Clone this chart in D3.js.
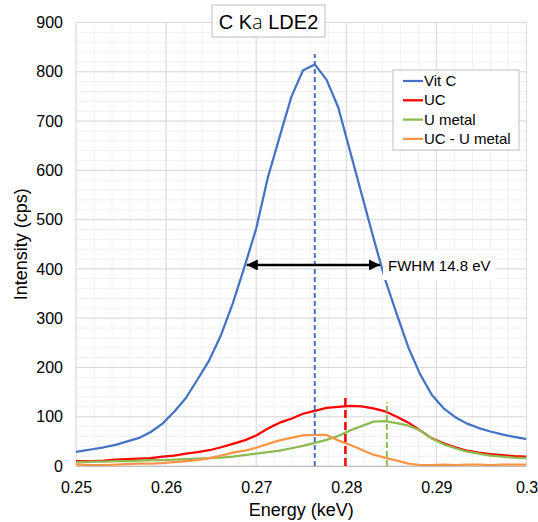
<!DOCTYPE html>
<html><head><meta charset="utf-8">
<script src="https://cdn.jsdelivr.net/npm/d3@7"></script>
<style>
html,body{margin:0;padding:0;background:#fff;}
svg text{font-family:"Liberation Sans",Arial,sans-serif;fill:#000;}
</style></head>
<body><svg id="chart" width="538" height="522"></svg>
<script>
// ---- data ----
const energy = [0.2492,0.2505,0.2518,0.2531,0.2544,0.2557,0.2570,0.2583,0.2596,0.2609,
  0.2622,0.2635,0.2648,0.2661,0.2674,0.2687,0.2700,0.2713,0.2726,0.2739,
  0.2752,0.2765,0.2778,0.2791,0.2804,0.2817,0.2830,0.2843,0.2856,0.2869,
  0.2882,0.2895,0.2908,0.2921,0.2934,0.2947,0.2960,0.2973,0.2986,0.2999];
const vitC = [27,30,34,38,43,50,57,69,86,110,
  138,176,215,266,330,404,482,586,668,749,
  803,815,784,728,640,552,464,379,308,240,
  186,144,117,99,86,77,70,64,59,55];
const uc = [10,10,10,11,13,14,15,16,19,21,
  25,28,32,38,45,52,62,76,88,96,
  106,112,118,120,122,121,117,111,100,88,
  72,56,46,38,31,27,24,22,20,19];
const uMetal = [8,8,9,9,10,10,11,12,12,13,
  14,15,16,17,19,22,25,28,31,36,
  41,47,53,61,72,81,90,91,87,82,
  72,56,44,36,29,25,21,19,17,16];
const ucMinusU = [4,3,2,2,3,4,5,5,6,8,
  10,12,16,21,27,31,37,45,52,57,
  62,63,63,52,43,33,23,17,11,5,
  2,2,3,2,3,3,2,3,3,3];
const seriesNames = ["Vit C","UC","U metal","UC - U metal"];
const seriesColors = ["#4472c4","#ff0000","#8cbb4f","#f79646"];
const xTicks = [0.25,0.26,0.27,0.28,0.29,0.3];
const xTickLabels = ["0.25","0.26","0.27","0.28","0.29","0.3"];
const yTicks = [0,100,200,300,400,500,600,700,800,900];
// marker lines: [energy, top value]
const markerX = [0.2765,0.2799,0.2845];
const markerTop = [836,145,130];
const fwhmFrom = 0.26895, fwhmTo = 0.28374, fwhmLevel = 408;
const fwhmLabel = "FWHM 14.8 eV";

// ---- layout ----
const svg = d3.select("#chart");
const L = 76, R = 526.5, T = 22.5, B = 466;
const x = d3.scaleLinear().domain([0.25,0.3]).range([L,R]);
const y = d3.scaleLinear().domain([0,900]).range([B,T]);

// minor grid
const g = svg.append("g");
const xMinor = d3.range(0,26).map(i=>0.25+i*0.002);
const yMinor = d3.range(0,46).map(i=>i*20);
g.selectAll(".vmin").data(xMinor).enter().append("line")
  .attr("x1",d=>x(d)).attr("x2",d=>x(d)).attr("y1",T).attr("y2",B)
  .attr("stroke","#f0f0f0").attr("stroke-width",1);
g.selectAll(".hmin").data(yMinor).enter().append("line")
  .attr("x1",L).attr("x2",R).attr("y1",d=>y(d)).attr("y2",d=>y(d))
  .attr("stroke","#f0f0f0").attr("stroke-width",1);
// major grid
g.selectAll(".vmaj").data(xTicks).enter().append("line")
  .attr("x1",d=>x(d)).attr("x2",d=>x(d)).attr("y1",T).attr("y2",B)
  .attr("stroke","#d9d9d9").attr("stroke-width",1);
g.selectAll(".hmaj").data(yTicks).enter().append("line")
  .attr("x1",L).attr("x2",R).attr("y1",d=>y(d)).attr("y2",d=>y(d))
  .attr("stroke","#d9d9d9").attr("stroke-width",1);

// axes (labels only)
const xAxis = d3.axisBottom(x).tickValues(xTicks).tickFormat((d,i)=>xTickLabels[i]).tickSize(0).tickPadding(16);
const xa = svg.append("g").attr("transform",`translate(0,${B})`).call(xAxis);
xa.select(".domain").attr("stroke","#bfbfbf");
xa.selectAll("text").style("font-size","16px").attr("font-family",null);
const yAxis = d3.axisLeft(y).tickValues(yTicks).tickSize(0).tickPadding(13);
const ya = svg.append("g").attr("transform",`translate(${L},0)`).call(yAxis);
ya.select(".domain").remove();
ya.selectAll("text").style("font-size","16px").attr("font-family",null);

// axis titles
svg.append("text").attr("x",(L+R)/2).attr("y",516).attr("text-anchor","middle")
  .style("font-size","18px").text("Energy (keV)");
svg.append("text").attr("transform",`translate(27,${(T+B)/2}) rotate(-90)`).attr("text-anchor","middle")
  .style("font-size","18px").text("Intensity (cps)");

// series
svg.append("clipPath").attr("id","clip").append("rect").attr("x",L).attr("y",T-5).attr("width",R-L).attr("height",B-T+5);
const line = d3.line().x(d=>x(d[0])).y(d=>y(d[1]));
const allSeries = [vitC,uc,uMetal,ucMinusU];
const sg = svg.append("g").attr("clip-path","url(#clip)");
allSeries.forEach((vals,k)=>{
  sg.append("path").datum(energy.map((e,i)=>[e,vals[i]]))
    .attr("d",line).attr("fill","none").attr("stroke",seriesColors[k])
    .attr("stroke-width",2.25).attr("stroke-linejoin","round").attr("stroke-linecap","round");
});

// marker dashed lines
const dashes = ["5,3","8,4","6,3"];
const widths = [2,2.5,2];
markerX.forEach((m,k)=>{
  svg.append("line").attr("x1",x(m)).attr("x2",x(m)).attr("y1",y(0)).attr("y2",y(markerTop[k]))
    .attr("stroke",seriesColors[k]).attr("stroke-width",widths[k]).attr("stroke-dasharray",dashes[k]);
});

// FWHM arrow
const defs = svg.append("defs");
defs.append("marker").attr("id","ah").attr("viewBox","0 0 10 10").attr("refX",10).attr("refY",5)
  .attr("markerWidth",5).attr("markerHeight",4.4).attr("orient","auto-start-reverse").attr("markerUnits","strokeWidth")
  .append("path").attr("d","M0,0 L10,5 L0,10 z").attr("fill","#000");
svg.append("line").attr("x1",x(fwhmFrom)).attr("x2",x(fwhmTo)).attr("y1",y(fwhmLevel)).attr("y2",y(fwhmLevel))
  .attr("stroke","#000").attr("stroke-width",2.5)
  .attr("marker-start","url(#ah)").attr("marker-end","url(#ah)");
svg.append("rect").attr("x",x(fwhmTo)+3).attr("y",y(fwhmLevel)-15).attr("width",112).attr("height",30).attr("fill","#fff");
svg.append("text").attr("x",x(fwhmTo)+8).attr("y",y(fwhmLevel)+6).style("font-size","15px").text(fwhmLabel);

// title
svg.append("rect").attr("x",212).attr("y",5).attr("width",113).attr("height",32)
  .attr("fill","#fff").attr("stroke","#bfbfbf").attr("stroke-width",1);
const tt = svg.append("text").attr("x",268.5).attr("y",29).attr("text-anchor","middle").style("font-size","20px");
tt.append("tspan").text("C K");
tt.append("tspan").text("a").style("font-family","'Open Sans'").style("font-weight","300");
tt.append("tspan").text(" LDE2");

// legend
const lg = svg.append("g").attr("transform","translate(393,70)");
lg.append("rect").attr("width",126).attr("height",80).attr("fill","#fff").attr("stroke","#bfbfbf").attr("stroke-width",1);
seriesNames.forEach((n,k)=>{
  const yy = 11 + k*19.3;
  lg.append("line").attr("x1",10).attr("x2",30).attr("y1",yy).attr("y2",yy)
    .attr("stroke",seriesColors[k]).attr("stroke-width",2.25);
  lg.append("text").attr("x",31).attr("y",yy+5).style("font-size","15px").text(n);
});
</script></body></html>
